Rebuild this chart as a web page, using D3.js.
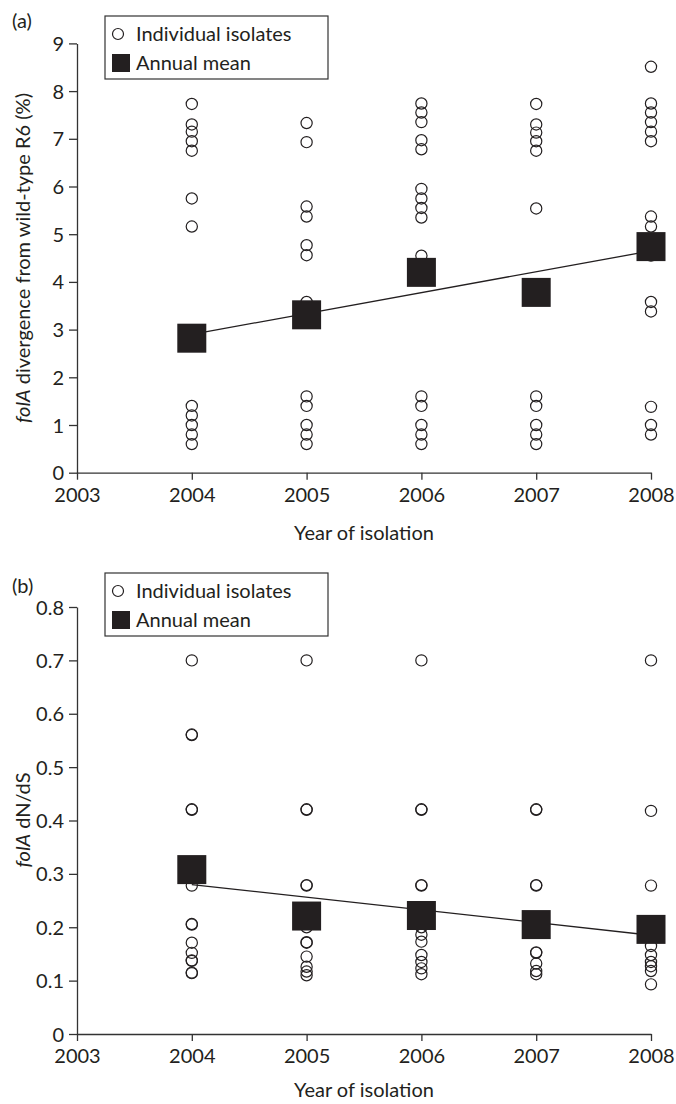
<!DOCTYPE html>
<html>
<head>
<meta charset="utf-8">
<script src="https://cdn.jsdelivr.net/npm/d3@7"></script>
<style>
  html, body { margin: 0; padding: 0; background: #fff; }
  svg { display: block; }
</style>
</head>
<body>
<svg id="chart" width="676" height="1104"></svg>
<script>
// ---------- DATA ----------
const years = [2004, 2005, 2006, 2007, 2008];
const xTicks = [2003, 2004, 2005, 2006, 2007, 2008];

// Panel (a): folA divergence from wild-type R6 (%)
const divIsolates2004 = [7.73, 7.3, 7.15, 6.95, 6.75, 5.75, 5.16, 1.4, 1.2, 1.0, 0.8, 0.6];
const divIsolates2005 = [7.33, 6.93, 5.58, 5.37, 4.77, 4.56, 3.58, 1.6, 1.4, 1.0, 0.8, 0.6];
const divIsolates2006 = [7.74, 7.55, 7.35, 6.97, 6.78, 5.95, 5.75, 5.55, 5.35, 4.55, 1.6, 1.4, 1.0, 0.8, 0.6];
const divIsolates2007 = [7.73, 7.3, 7.13, 6.95, 6.75, 5.54, 1.6, 1.4, 1.0, 0.8, 0.6];
const divIsolates2008 = [8.51, 7.74, 7.55, 7.35, 7.15, 6.95, 5.37, 5.16, 4.55, 3.58, 3.38, 1.38, 1.0, 0.8];
const divMeans = [2.82, 3.31, 4.2, 3.78, 4.74];
const divTrend = [2.9, 4.65];            // fitted line at 2004 and 2008
const divTicks = [0, 1, 2, 3, 4, 5, 6, 7, 8, 9];

// Panel (b): folA dN/dS
const dndsIsolates2004 = [0.70, 0.56, 0.561, 0.42, 0.421, 0.278, 0.205, 0.206, 0.171, 0.152, 0.137, 0.138, 0.114, 0.115];
const dndsIsolates2005 = [0.70, 0.42, 0.421, 0.278, 0.279, 0.2, 0.171, 0.172, 0.145, 0.126, 0.117, 0.11];
const dndsIsolates2006 = [0.70, 0.42, 0.421, 0.278, 0.279, 0.2, 0.186, 0.173, 0.148, 0.135, 0.123, 0.112];
const dndsIsolates2007 = [0.42, 0.421, 0.278, 0.279, 0.152, 0.153, 0.132, 0.118, 0.112];
const dndsIsolates2008 = [0.70, 0.418, 0.278, 0.165, 0.148, 0.135, 0.127, 0.118, 0.093];
const dndsMeans = [0.308, 0.221, 0.222, 0.205, 0.196];
const dndsTrend = [0.28, 0.185];
const dndsTicks = [0, 0.1, 0.2, 0.3, 0.4, 0.5, 0.6, 0.7, 0.8];

const legendLabels = ["Individual isolates", "Annual mean"];

// ---------- DRAW ----------
const FONT = "Lato, 'Open Sans', sans-serif";
const INK = "#231f20";
const svg = d3.select("#chart");

const x = d3.scaleLinear().domain([2003, 2008]).range([77, 651]);

function panel(opts) {
  const g = svg.append("g");
  const y = d3.scaleLinear().domain(opts.domain).range(opts.range);

  // axes
  const ya = g.append("g").attr("transform", `translate(${x(2003)},0)`)
    .call(d3.axisLeft(y).tickValues(opts.ticks).tickFormat(opts.fmt).tickSize(8).tickSizeOuter(0).tickPadding(5));
  const xa = g.append("g").attr("transform", `translate(0,${y(0)})`)
    .call(d3.axisBottom(x).tickValues(xTicks).tickFormat(d3.format("d")).tickSize(7).tickSizeOuter(0).tickPadding(8));
  [ya, xa].forEach(a => {
    a.selectAll("path,line").attr("stroke", "#333").attr("stroke-width", 1.3);
    a.selectAll("text").attr("font-family", FONT).attr("font-size", 20).attr("fill", INK);
  });
  ya.selectAll("text").attr("dy", "0.35em");

  // isolates
  opts.isolates.forEach((arr, i) => {
    g.append("g").selectAll("circle").data(arr).join("circle")
      .attr("cx", x(years[i])).attr("cy", d => y(d)).attr("r", 5.6)
      .attr("fill", "none").attr("stroke", INK).attr("stroke-width", 1.2);
  });

  // trend line
  g.append("line")
    .attr("x1", x(2004)).attr("y1", y(opts.trend[0]))
    .attr("x2", x(2008)).attr("y2", y(opts.trend[1]))
    .attr("stroke", INK).attr("stroke-width", 1.3);

  // means
  const s = 29;
  g.append("g").selectAll("rect").data(opts.means).join("rect")
    .attr("x", (d, i) => x(years[i]) - s / 2).attr("y", d => y(d) - s / 2)
    .attr("width", s).attr("height", s).attr("fill", INK);

  // axis titles
  g.append("text")
    .attr("x", (x(2003) + x(2008)) / 2).attr("y", y(0) + opts.xtitleOff)
    .attr("text-anchor", "middle").attr("font-family", FONT).attr("font-size", 20).attr("fill", INK)
    .text("Year of isolation");

  const yt = g.append("text")
    .attr("transform", `translate(30,${opts.ytitleY}) rotate(-90)`)
    .attr("text-anchor", "middle").attr("font-family", FONT).attr("font-size", 20).attr("fill", INK);
  yt.append("tspan").attr("font-style", "italic").text("folA");
  yt.append("tspan").text(opts.ytitle);

  // panel label
  g.append("text").attr("x", 12).attr("y", opts.labelY)
    .attr("font-family", FONT).attr("font-size", 20).attr("fill", INK).text(opts.label);

  // legend
  const lg = g.append("g").attr("transform", `translate(105,${opts.legendY})`);
  lg.append("rect").attr("x", 0).attr("y", 0).attr("width", 223).attr("height", 63)
    .attr("fill", "#fff").attr("stroke", "#333").attr("stroke-width", 1.2);
  lg.append("circle").attr("cx", 13).attr("cy", 18).attr("r", 5.5)
    .attr("fill", "none").attr("stroke", INK).attr("stroke-width", 1.2);
  lg.append("rect").attr("x", 7).attr("y", 38).attr("width", 18).attr("height", 18).attr("fill", INK);
  lg.selectAll("text").data(legendLabels).join("text")
    .attr("x", 31).attr("y", (d, i) => 25 + i * 29)
    .attr("font-family", FONT).attr("font-size", 20).attr("fill", INK).text(d => d);
}

panel({
  domain: [0, 9], range: [472.7, 43.4], ticks: divTicks, fmt: d3.format("d"),
  isolates: [divIsolates2004, divIsolates2005, divIsolates2006, divIsolates2007, divIsolates2008],
  means: divMeans, trend: divTrend,
  ytitle: " divergence from wild-type R6 (%)", ytitleY: 258, xtitleOff: 67,
  label: "(a)", labelY: 28, legendY: 16
});

panel({
  domain: [0, 0.8], range: [1034, 607], ticks: dndsTicks, fmt: d => d === 0 ? "0" : d3.format(".1f")(d),
  isolates: [dndsIsolates2004, dndsIsolates2005, dndsIsolates2006, dndsIsolates2007, dndsIsolates2008],
  means: dndsMeans, trend: dndsTrend,
  ytitle: " dN/dS", ytitleY: 820, xtitleOff: 63,
  label: "(b)", labelY: 593, legendY: 573
});
</script>
</body>
</html>
